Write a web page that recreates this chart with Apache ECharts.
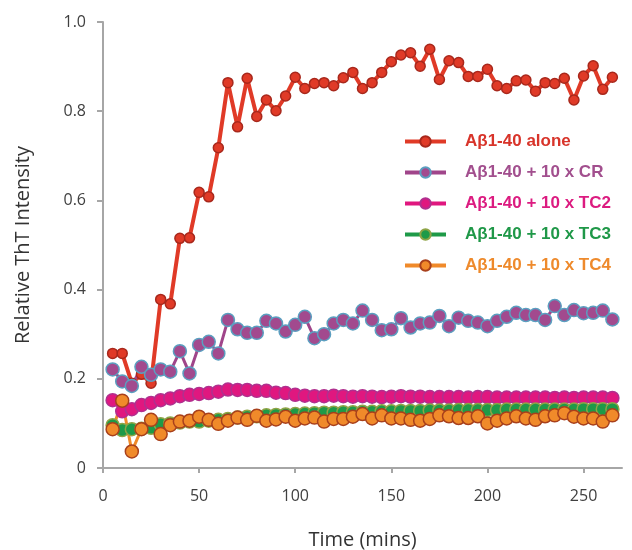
<!DOCTYPE html>
<html>
<head>
<meta charset="utf-8">
<script src="https://cdn.jsdelivr.net/npm/echarts@6/dist/echarts.min.js"></script>
<style>
  html, body { margin: 0; padding: 0; background: #fff; }
  #chart { width: 632px; height: 550px; }
</style>
</head>
<body>
<div id="chart"></div>
<script>
const times = [5, 10, 15, 20, 25, 30, 35, 40, 45, 50, 55, 60, 65, 70, 75, 80, 85, 90, 95, 100,
  105, 110, 115, 120, 125, 130, 135, 140, 145, 150, 155, 160, 165, 170, 175, 180, 185, 190, 195, 200,
  205, 210, 215, 220, 225, 230, 235, 240, 245, 250, 255, 260, 265];

const alone = [0.257, 0.257, 0.19, 0.21, 0.19, 0.378, 0.368, 0.515, 0.516, 0.618, 0.608, 0.718, 0.864, 0.765, 0.874, 0.788, 0.825, 0.801, 0.834, 0.876,
  0.851, 0.862, 0.864, 0.857, 0.875, 0.887, 0.851, 0.864, 0.887, 0.911, 0.926, 0.931, 0.901, 0.939, 0.871, 0.913, 0.909, 0.878, 0.878, 0.894,
  0.857, 0.851, 0.868, 0.870, 0.845, 0.864, 0.862, 0.874, 0.825, 0.879, 0.902, 0.849, 0.876];

const withCR = [0.221, 0.194, 0.184, 0.227, 0.209, 0.221, 0.216, 0.262, 0.212, 0.276, 0.283, 0.257, 0.332, 0.311, 0.303, 0.303, 0.330, 0.324, 0.306, 0.321,
  0.339, 0.291, 0.300, 0.324, 0.332, 0.324, 0.353, 0.332, 0.309, 0.311, 0.336, 0.315, 0.324, 0.326, 0.341, 0.318, 0.337, 0.330, 0.326, 0.318,
  0.330, 0.339, 0.348, 0.343, 0.343, 0.332, 0.363, 0.343, 0.354, 0.347, 0.348, 0.353, 0.333];

const withTC2 = [0.152, 0.127, 0.132, 0.141, 0.146, 0.152, 0.156, 0.161, 0.164, 0.166, 0.168, 0.171, 0.176, 0.175, 0.175, 0.173, 0.173, 0.169, 0.168, 0.164,
  0.162, 0.161, 0.161, 0.162, 0.161, 0.160, 0.161, 0.160, 0.159, 0.160, 0.161, 0.160, 0.160, 0.159, 0.159, 0.159, 0.159, 0.158, 0.159, 0.159,
  0.158, 0.158, 0.158, 0.158, 0.158, 0.158, 0.157, 0.158, 0.157, 0.158, 0.158, 0.158, 0.157];

const withTC3 = [0.096, 0.085, 0.087, 0.088, 0.090, 0.098, 0.100, 0.102, 0.104, 0.104, 0.106, 0.108, 0.110, 0.113, 0.115, 0.116, 0.118, 0.119, 0.120, 0.121,
  0.122, 0.123, 0.124, 0.124, 0.125, 0.125, 0.126, 0.126, 0.127, 0.127, 0.128, 0.128, 0.128, 0.129, 0.129, 0.129, 0.130, 0.130, 0.130, 0.130,
  0.130, 0.131, 0.131, 0.131, 0.131, 0.131, 0.131, 0.131, 0.131, 0.132, 0.132, 0.132, 0.132];

const withTC4 = [0.087, 0.151, 0.037, 0.087, 0.108, 0.076, 0.096, 0.104, 0.106, 0.115, 0.108, 0.099, 0.106, 0.113, 0.108, 0.117, 0.106, 0.109, 0.115, 0.106,
  0.111, 0.113, 0.104, 0.110, 0.110, 0.115, 0.121, 0.111, 0.118, 0.111, 0.111, 0.108, 0.106, 0.110, 0.118, 0.116, 0.112, 0.112, 0.116, 0.100,
  0.106, 0.111, 0.116, 0.111, 0.108, 0.116, 0.118, 0.123, 0.115, 0.111, 0.111, 0.104, 0.118];

const xTicks = [0, 50, 100, 150, 200, 250];
const yTicks = [0, 0.2, 0.4, 0.6, 0.8, 1.0];

const seriesNames = ["Aβ1-40 alone", "Aβ1-40 + 10 x CR", "Aβ1-40 + 10 x TC2", "Aβ1-40 + 10 x TC3", "Aβ1-40 + 10 x TC4"];

const pairs = (vals) => times.map((t, i) => [t, vals[i]]);

const myChart = echarts.init(document.getElementById("chart"));

const makeSeries = (name, vals, line, fill, border, size, width) => ({
  name: name,
  type: "line",
  symbol: "circle",
  symbolSize: size,
  lineStyle: { color: line, width: width },
  itemStyle: { color: fill, borderColor: border, borderWidth: 1.5 },
  emphasis: { disabled: true },
  animation: false,
  data: pairs(vals),
});

const option = {
  animation: false,
  grid: { left: 103, right: 10, top: 22, bottom: 82, outerBoundsMode: "none" },
  legend: {
    orient: "vertical",
    left: 398,
    top: 128,
    itemWidth: 41,
    itemHeight: 13,
    itemGap: 14,
    lineStyle: { width: 4 },
    textStyle: { fontFamily: "Liberation Sans", fontWeight: "bold", fontSize: 17, padding: [0, 0, 0, 14] },
    data: [
      { name: seriesNames[0], textStyle: { color: "#d8342a" } },
      { name: seriesNames[1], textStyle: { color: "#a24f8e" } },
      { name: seriesNames[2], textStyle: { color: "#dc1b80" } },
      { name: seriesNames[3], textStyle: { color: "#1f9848" } },
      { name: seriesNames[4], textStyle: { color: "#ee8a2c" } },
    ],
  },
  xAxis: {
    type: "value",
    min: 0,
    max: 270,
    name: "Time (mins)",
    nameLocation: "middle",
    nameGap: 62,
    nameTextStyle: { fontFamily: "Open Sans", fontSize: 20, color: "#333" },
    splitLine: { show: false },
    axisLine: { lineStyle: { color: "#a6a6a6", width: 2 } },
    axisTick: { show: true, length: 5, lineStyle: { color: "#a6a6a6", width: 2 }, customValues: xTicks },
    axisLabel: { fontFamily: "Open Sans", fontSize: 16, color: "#404040", margin: 20, customValues: xTicks },
  },
  yAxis: {
    type: "value",
    min: 0,
    max: 1.0,
    interval: 0.2,
    name: "Relative ThT Intensity",
    nameLocation: "middle",
    nameGap: 70,
    nameTextStyle: { fontFamily: "Open Sans", fontSize: 20, color: "#333" },
    splitLine: { show: false },
    axisLine: { show: true, lineStyle: { color: "#a6a6a6", width: 2 } },
    axisTick: { show: true, length: 6, lineStyle: { color: "#a6a6a6", width: 2 }, customValues: yTicks },
    axisLabel: {
      fontFamily: "Open Sans",
      fontSize: 16,
      color: "#404040",
      margin: 17,
      customValues: yTicks,
      formatter: (v) => (v === 0 ? "0" : v.toFixed(1)),
    },
  },
  series: [
    makeSeries(seriesNames[0], alone, "#e03a27", "#e03a27", "#a8281c", 10, 4),
    makeSeries(seriesNames[1], withCR, "#a0458a", "#a24a8e", "#5b9fc0", 13, 3),
    makeSeries(seriesNames[2], withTC2, "#e0177f", "#e0177f", "#b0308f", 13, 3),
    makeSeries(seriesNames[3], withTC3, "#1e9a48", "#1e9a48", "#8ea446", 13, 3),
    makeSeries(seriesNames[4], withTC4, "#f08a2a", "#f08a2a", "#a8401c", 13, 3),
  ],
};

option && myChart.setOption(option);
</script>
</body>
</html>
